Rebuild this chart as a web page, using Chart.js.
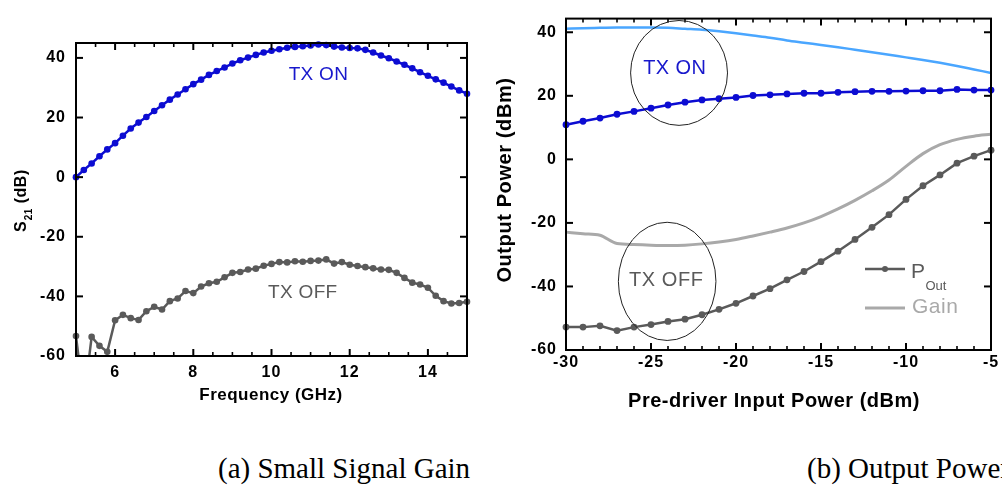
<!DOCTYPE html>
<html>
<head>
<meta charset="utf-8">
<script src="https://cdn.jsdelivr.net/npm/chart.js@4.4.1/dist/chart.umd.min.js"></script>
<style>
  html, body { margin: 0; padding: 0; background: #fff; }
  body { width: 1002px; height: 489px; position: relative; overflow: hidden; }
  .box { position: absolute; top: 0; height: 430px; }
  #boxA { left: 0; width: 490px; }
  #boxB { left: 490px; width: 512px; }
  .cap {
    position: absolute; top: 454px;
    font-family: "Liberation Serif", "Times New Roman", serif;
    font-size: 29px; line-height: 29px; white-space: nowrap; color: #000;
  }
</style>
</head>
<body>
<div class="box" id="boxA"><canvas id="gainChart" width="490" height="430"></canvas></div>
<div class="box" id="boxB"><canvas id="powerChart" width="512" height="430"></canvas></div>
<div class="cap" style="left:218px">(a) Small Signal Gain</div>
<div class="cap" style="left:807px">(b) Output Power</div>

<script>
// ---- (a) small signal gain vs frequency ----
const freqGHz = [
  5.0, 5.2, 5.4, 5.6, 5.8, 6.0, 6.2, 6.4, 6.6, 6.8,
  7.0, 7.2, 7.4, 7.6, 7.8, 8.0, 8.2, 8.4, 8.6, 8.8,
  9.0, 9.2, 9.4, 9.6, 9.8, 10.0, 10.2, 10.4, 10.6, 10.8,
  11.0, 11.2, 11.4, 11.6, 11.8, 12.0, 12.2, 12.4, 12.6, 12.8,
  13.0, 13.2, 13.4, 13.6, 13.8, 14.0, 14.2, 14.4, 14.6, 14.8, 15.0
];
const s21TxOn = [
  0.0, 2.4, 4.6, 7.0, 9.3, 11.4, 13.9, 16.3, 18.3, 20.2,
  22.2, 24.1, 26.0, 27.7, 29.5, 31.2, 32.7, 34.3, 35.6, 36.8,
  38.1, 39.2, 40.1, 41.0, 41.8, 42.4, 42.9, 43.4, 43.7, 43.9,
  44.2, 44.5, 44.3, 43.8, 43.5, 43.3, 43.2, 42.7, 41.8, 40.8,
  39.9, 38.8, 37.7, 36.5, 35.2, 34.0, 32.8, 31.7, 30.4, 29.1, 28.0
];
const s21TxOff = [
  -53.3, -75.0, -53.6, -56.6, -58.6, -48.0, -46.2, -47.3, -47.9, -45.0,
  -43.5, -44.4, -41.6, -40.7, -38.2, -38.9, -36.7, -35.6, -35.1, -33.6,
  -32.1, -31.8, -31.0, -30.7, -29.7, -29.1, -28.5, -28.6, -28.2, -28.4,
  -28.1, -28.0, -27.6, -29.0, -28.5, -29.4, -29.8, -30.2, -30.6, -31.0,
  -31.1, -32.1, -33.8, -35.4, -36.0, -37.1, -39.8, -41.6, -42.4, -42.2, -41.8
];
const gainTicksX = [6, 8, 10, 12, 14];
const gainTicksY = [-60, -40, -20, 0, 20, 40];

// ---- (b) output power / gain vs pre-driver input power ----
const inputPower = [
  -30, -29, -28, -27, -26, -25, -24, -23, -22, -21, -20, -19, -18,
  -17, -16, -15, -14, -13, -12, -11, -10, -9, -8, -7, -6, -5
];
const poutTxOn = [
  10.9, 12.0, 13.0, 14.2, 15.1, 16.1, 17.1, 18.0, 18.7, 19.1, 19.5, 20.1, 20.3,
  20.6, 20.8, 20.8, 21.1, 21.3, 21.4, 21.4, 21.5, 21.6, 21.6, 22.0, 21.8, 21.8
];
const gainTxOn = [
  41.1, 41.3, 41.4, 41.5, 41.5, 41.5, 41.4, 41.1, 40.8, 40.3, 39.7, 39.0, 38.3,
  37.4, 36.7, 36.0, 35.3, 34.5, 33.7, 32.9, 32.1, 31.3, 30.4, 29.4, 28.3, 27.2
];
const poutTxOff = [
  -52.8, -52.8, -52.4, -53.9, -52.8, -52.0, -51.0, -50.3, -48.9, -47.2, -45.3, -43.0, -40.7,
  -37.9, -35.3, -32.2, -28.9, -25.2, -21.4, -17.4, -12.6, -8.3, -4.9, -1.2, 1.0, 2.9
];
const gainTxOff = [
  -22.9, -23.4, -23.9, -26.5, -26.8, -27.0, -27.1, -27.0, -26.6, -26.0, -25.2, -24.1, -22.9,
  -21.6, -20.0, -18.0, -15.6, -12.9, -9.9, -6.5, -2.2, 1.8, 4.6, 6.3, 7.3, 7.9
];
const powerTicksX = [-30, -25, -20, -15, -10, -5];
const powerTicksY = [-60, -40, -20, 0, 20, 40];

// ---- colours ----
const BLUE = '#0c0cd2';
const LIGHT_BLUE = '#4aa6ff';
const DARK_GRAY = '#5a5a5a';
const LIGHT_GRAY = '#a9a9a9';
const SANS = '"Liberation Sans", Arial, sans-serif';

const pair = (xs, ys) => xs.map((x, i) => ({ x, y: ys[i] }));

function scalesFor(cfg) {
  const tickFont = { family: SANS, size: 16, weight: 'bold' };
  return {
    x: {
      type: 'linear', min: cfg.xMin, max: cfg.xMax,
      grid: { display: false, drawTicks: false }, border: { display: false },
      afterBuildTicks: s => { s.ticks = cfg.xTicks.map(v => ({ value: v })); },
      afterFit: s => { s.height = cfg.xHeight; },
      ticks: { padding: cfg.xPad, font: tickFont, color: '#000', maxRotation: 0, autoSkip: false,
               callback: v => String(v) }
    },
    y: {
      type: 'linear', min: cfg.yMin, max: cfg.yMax,
      grid: { display: false, drawTicks: false }, border: { display: false },
      afterBuildTicks: s => { s.ticks = cfg.yTicks.map(v => ({ value: v })); },
      afterFit: s => { s.width = cfg.yWidth; },
      ticks: { padding: cfg.yPad, font: tickFont, color: '#000', autoSkip: false,
               callback: v => String(v) }
    }
  };
}

// wider tracking on the axis numbers
const trackingPlugin = {
  id: 'tracking',
  beforeDraw(chart) { chart.ctx.letterSpacing = '1px'; }
};

// boxed frame with inward ticks on all four sides
const framePlugin = {
  id: 'frame',
  afterDraw(chart, args, opts) {
    const { ctx, chartArea: a, scales: { x, y } } = chart;
    ctx.save();
    ctx.strokeStyle = '#000';
    const seg = (x1, y1, x2, y2, w) => {
      ctx.lineWidth = w; ctx.beginPath(); ctx.moveTo(x1, y1); ctx.lineTo(x2, y2); ctx.stroke();
    };
    const n = Math.round((x.max - x.min) / opts.xMinorStep);
    for (let i = 0; i <= n; i++) {
      const v = x.min + i * opts.xMinorStep;
      const px = x.getPixelForValue(v);
      const major = opts.xMajor.some(m => Math.abs(m - v) < 1e-6);
      const len = major ? 7 : 4;
      seg(px, a.bottom, px, a.bottom - len, major ? 2 : 1.6);
      seg(px, a.top, px, a.top + len, major ? 2 : 1.6);
    }
    for (const v of opts.yMajor) {
      const py = y.getPixelForValue(v);
      seg(a.left, py, a.left + 7, py, 2);
      seg(a.right, py, a.right - 7, py, 2);
    }
    ctx.lineWidth = 2;
    ctx.strokeRect(a.left, a.top, a.right - a.left, a.bottom - a.top);
    ctx.restore();
  }
};

function text(ctx, str, x, y, font, color, spacing, align, baseline) {
  ctx.save();
  ctx.font = font;
  ctx.fillStyle = color;
  ctx.letterSpacing = spacing || '0px';
  ctx.textAlign = align || 'center';
  ctx.textBaseline = baseline || 'middle';
  ctx.fillText(str, x, y);
  ctx.restore();
}

function ellipse(chart, cx, cy, rx, ry) {
  const { ctx, scales: { x, y } } = chart;
  const px = x.getPixelForValue(cx), py = y.getPixelForValue(cy);
  const prx = Math.abs(x.getPixelForValue(cx + rx) - px);
  const pry = Math.abs(y.getPixelForValue(cy + ry) - py);
  ctx.save();
  ctx.strokeStyle = '#222'; ctx.lineWidth = 1;
  ctx.beginPath(); ctx.ellipse(px, py, prx, pry, 0, 0, Math.PI * 2); ctx.stroke();
  ctx.restore();
}

// ---- chart (a) ----
const gainDecor = {
  id: 'gainDecor',
  afterDraw(chart) {
    const { ctx, scales: { x, y } } = chart;
    text(ctx, 'TX ON', x.getPixelForValue(11.2), y.getPixelForValue(34.5),
         '19px ' + SANS, '#1818cc', '0.3px');
    text(ctx, 'TX OFF', x.getPixelForValue(10.8), y.getPixelForValue(-38.8),
         '19px ' + SANS, DARK_GRAY, '0.3px');
    text(ctx, 'Frequency (GHz)', 271, 400, 'bold 17px ' + SANS, '#000', '0.5px', 'center', 'alphabetic');
    // rotated S21 (dB) with subscript
    ctx.save();
    ctx.translate(25.5, 232);
    ctx.rotate(-Math.PI / 2);
    ctx.fillStyle = '#000';
    ctx.textAlign = 'left'; ctx.textBaseline = 'alphabetic';
    ctx.letterSpacing = '0.5px';
    ctx.font = 'bold 16px ' + SANS;
    ctx.fillText('S', 0, 0);
    let cx = ctx.measureText('S').width + 0.5;
    ctx.font = 'bold 10px ' + SANS;
    ctx.fillText('21', cx, 6.5);
    cx += ctx.measureText('21').width;
    ctx.font = 'bold 16px ' + SANS;
    ctx.fillText(' (dB)', cx, 0);
    ctx.restore();
  }
};

new Chart(document.getElementById('gainChart'), {
  type: 'line',
  data: {
    datasets: [
      { label: 'TX ON', data: pair(freqGHz, s21TxOn), borderColor: BLUE, backgroundColor: BLUE,
        borderWidth: 2.5, pointRadius: 3.3, pointBorderWidth: 0, pointBackgroundColor: BLUE,
        tension: 0, clip: 6 },
      { label: 'TX OFF', data: pair(freqGHz, s21TxOff), borderColor: DARK_GRAY, backgroundColor: DARK_GRAY,
        borderWidth: 2.5, pointRadius: 3.3, pointBorderWidth: 0, pointBackgroundColor: DARK_GRAY,
        tension: 0, clip: { left: 6, right: 6, top: 6, bottom: 0 } }
    ]
  },
  options: {
    responsive: false, animation: false, devicePixelRatio: 1, events: [],
    layout: { padding: { left: 0, top: 43, right: 23, bottom: 0 } },
    scales: scalesFor({ xMin: 5, xMax: 15, xTicks: gainTicksX, yMin: -60, yMax: 45, yTicks: gainTicksY,
                        xHeight: 74, yWidth: 76, xPad: 7, yPad: 10 }),
    plugins: {
      legend: { display: false }, tooltip: { enabled: false },
      frame: { xMinorStep: 0.5, xMajor: gainTicksX, yMajor: gainTicksY }
    }
  },
  plugins: [trackingPlugin, framePlugin, gainDecor]
});

// ---- chart (b) ----
const powerDecor = {
  id: 'powerDecor',
  afterDraw(chart) {
    const { ctx, chartArea: a, scales: { x, y } } = chart;
    ellipse(chart, -23.35, 27.2, 2.85, 16.5);
    ellipse(chart, -24.05, -38.4, 2.87, 18.6);
    text(ctx, 'TX ON', x.getPixelForValue(-23.6), y.getPixelForValue(28.5),
         '20px ' + SANS, '#1818cc', '0.4px');
    text(ctx, 'TX OFF', x.getPixelForValue(-24.1), y.getPixelForValue(-38.2),
         '20px ' + SANS, DARK_GRAY, '0.6px');

    // legend
    const lx1 = a.right - 126, lx2 = a.right - 86, tx = a.right - 80;
    ctx.save();
    ctx.strokeStyle = DARK_GRAY; ctx.lineWidth = 2.5;
    ctx.beginPath(); ctx.moveTo(lx1, 269); ctx.lineTo(lx2, 269); ctx.stroke();
    ctx.fillStyle = DARK_GRAY;
    ctx.beginPath(); ctx.arc((lx1 + lx2) / 2, 269, 3, 0, Math.PI * 2); ctx.fill();
    ctx.strokeStyle = LIGHT_GRAY; ctx.lineWidth = 3;
    ctx.beginPath(); ctx.moveTo(lx1, 308); ctx.lineTo(lx2, 308); ctx.stroke();
    ctx.restore();
    text(ctx, 'P', tx, 278, '21px ' + SANS, DARK_GRAY, '0px', 'left', 'alphabetic');
    text(ctx, 'Out', tx + 14.5, 290, '13px ' + SANS, DARK_GRAY, '0px', 'left', 'alphabetic');
    text(ctx, 'Gain', tx + 1, 313, '21px ' + SANS, LIGHT_GRAY, '0.5px', 'left', 'alphabetic');

    // axis titles
    text(ctx, 'Pre-driver Input Power (dBm)', 284, 407, 'bold 20px ' + SANS, '#000', '0.5px', 'center', 'alphabetic');
    ctx.save();
    ctx.translate(21, 180);
    ctx.rotate(-Math.PI / 2);
    text(ctx, 'Output Power (dBm)', 0, 0, 'bold 20px ' + SANS, '#000', '0.6px', 'center', 'alphabetic');
    ctx.restore();
  }
};

new Chart(document.getElementById('powerChart'), {
  type: 'line',
  data: {
    datasets: [
      { label: 'Pout TX ON', data: pair(inputPower, poutTxOn), borderColor: BLUE, backgroundColor: BLUE,
        borderWidth: 2.5, pointRadius: 3.4, pointBorderWidth: 0, pointBackgroundColor: BLUE,
        tension: 0, clip: 6 },
      { label: 'Pout TX OFF', data: pair(inputPower, poutTxOff), borderColor: DARK_GRAY, backgroundColor: DARK_GRAY,
        borderWidth: 2.5, pointRadius: 3.4, pointBorderWidth: 0, pointBackgroundColor: DARK_GRAY,
        tension: 0, clip: 6 },
      { label: 'Gain TX ON', data: pair(inputPower, gainTxOn), borderColor: LIGHT_BLUE,
        borderWidth: 2.5, pointRadius: 0, cubicInterpolationMode: 'monotone', clip: 2 },
      { label: 'Gain TX OFF', data: pair(inputPower, gainTxOff), borderColor: LIGHT_GRAY,
        borderWidth: 3, pointRadius: 0, cubicInterpolationMode: 'monotone', clip: 2 }
    ]
  },
  options: {
    responsive: false, animation: false, devicePixelRatio: 1, events: [],
    layout: { padding: { left: 0, top: 12, right: 11, bottom: 0 } },
    scales: scalesFor({ xMin: -30, xMax: -5, xTicks: powerTicksX, yMin: -60, yMax: 44.3, yTicks: powerTicksY,
                        xHeight: 80, yWidth: 76, xPad: 3, yPad: 9 }),
    plugins: {
      legend: { display: false }, tooltip: { enabled: false },
      frame: { xMinorStep: 1, xMajor: powerTicksX, yMajor: powerTicksY }
    }
  },
  plugins: [trackingPlugin, framePlugin, powerDecor]
});
</script>
</body>
</html>
